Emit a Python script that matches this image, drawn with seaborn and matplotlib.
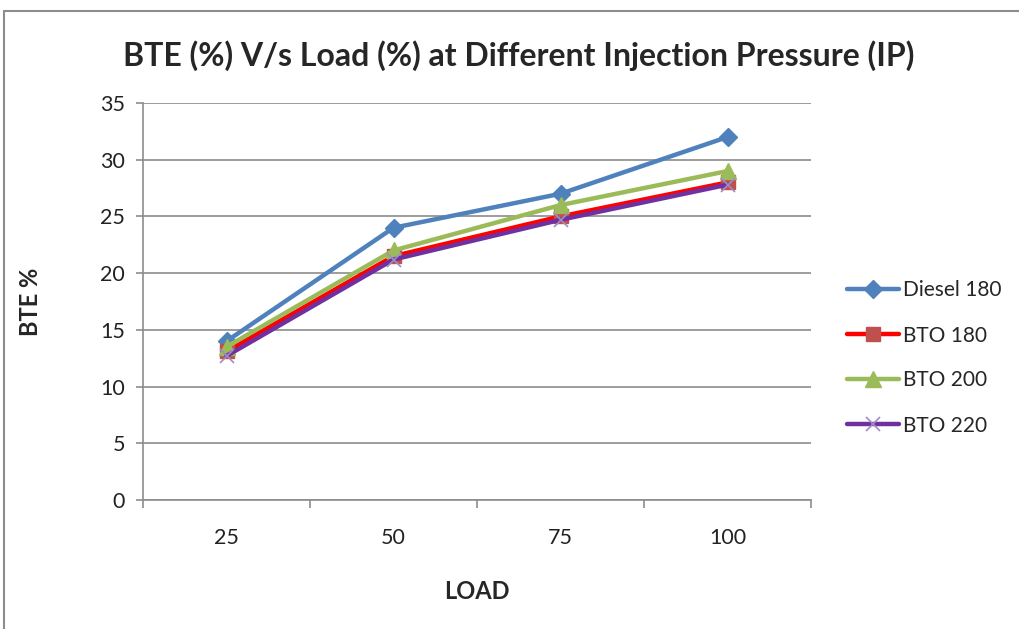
import numpy as np
import matplotlib
matplotlib.use("Agg")
import matplotlib.pyplot as plt
from matplotlib.patches import Rectangle
import seaborn as sns

loads = ["25", "50", "75", "100"]
diesel_180 = [14.0, 24.0, 27.0, 32.0]
bto_180 = [13.1, 21.5, 25.0, 28.0]
bto_200 = [13.5, 22.0, 26.0, 29.0]
bto_220 = [12.7, 21.2, 24.7, 27.8]
series_names = ["Diesel 180", "BTO 180", "BTO 200", "BTO 220"]
yticks = [0, 5, 10, 15, 20, 25, 30, 35]

sns.set_theme(style="white")
plt.rcParams['font.family'] = ['Lato', 'DejaVu Sans']

fig = plt.figure(figsize=(10.19, 6.29), dpi=100)
ax = fig.add_axes([143/1019, 1-500/629, (811-143)/1019, (500-103)/629])

# chart border
fig.patches.append(Rectangle((4/1019, -0.1), 1.2, (629-11)/629 + 0.1, transform=fig.transFigure,
                             fill=False, edgecolor="#8c8c8c", linewidth=1.5))

styles = [
    dict(color="#4F81BD", marker="D", mfc="#4F81BD", mec="#4F81BD", ms=9),
    dict(color="#FF0000", marker="s", mfc="#C0504D", mec="#C0504D", ms=10),
    dict(color="#9BBB59", marker="^", mfc="#9BBB59", mec="#9BBB59", ms=11),
    dict(color="#7030A0", marker="x", mfc="#8064A2", mec="#A08CC8", ms=10),
]
xs = np.arange(len(loads))
for name, vals, st in zip(series_names, [diesel_180, bto_180, bto_200, bto_220], styles):
    sns.lineplot(x=xs, y=vals, ax=ax, color=st["color"], linewidth=3.2,
                 marker=st["marker"], markersize=st["ms"], markerfacecolor=st["mfc"],
                 markeredgecolor=st["mec"], markeredgewidth=1 if st["marker"] != "x" else 1.2,
                 label=name)

ax.set_xlim(-0.5, len(loads) - 0.5)
ax.set_ylim(0, 35)
ax.set_yticks(yticks)
ax.set_xticks(xs)
ax.set_xticklabels(loads)
ax.set_xticks(np.arange(-0.5, len(loads), 1.0), minor=True)
ax.yaxis.grid(True, color="#8c8c8c", linewidth=1.2)
ax.xaxis.grid(False)
for side in ["top", "right"]:
    ax.spines[side].set_visible(False)
for side in ["left", "bottom"]:
    ax.spines[side].set_color("#8c8c8c")
    ax.spines[side].set_linewidth(1.2)
ax.tick_params(axis="y", which="major", left=True, length=5, width=1.2, color="#8c8c8c",
               labelsize=15.5, labelcolor="#222222", pad=8)
ax.tick_params(axis="x", which="major", bottom=False, labelsize=15.5, labelcolor="#222222", pad=14)
ax.tick_params(axis="x", which="minor", bottom=True, length=6, width=1.2, color="#8c8c8c")

ax.set_xlabel("LOAD", fontsize=17, fontweight="bold", labelpad=23)
ax.set_ylabel("BTE %", fontsize=17, fontweight="bold", labelpad=42)
fig.text(0.509, 1-56/629, "BTE (%) V/s Load (%) at Different Injection Pressure (IP)",
         ha="center", va="center", fontsize=23, fontweight="bold")

leg = ax.legend(loc="center left", bbox_to_anchor=((839-143)/668, (500-358)/397), frameon=False,
                fontsize=15, handlelength=2.5, labelspacing=1.2, handletextpad=0.15,
                borderaxespad=0)

fig.savefig("out.png", dpi=100)
